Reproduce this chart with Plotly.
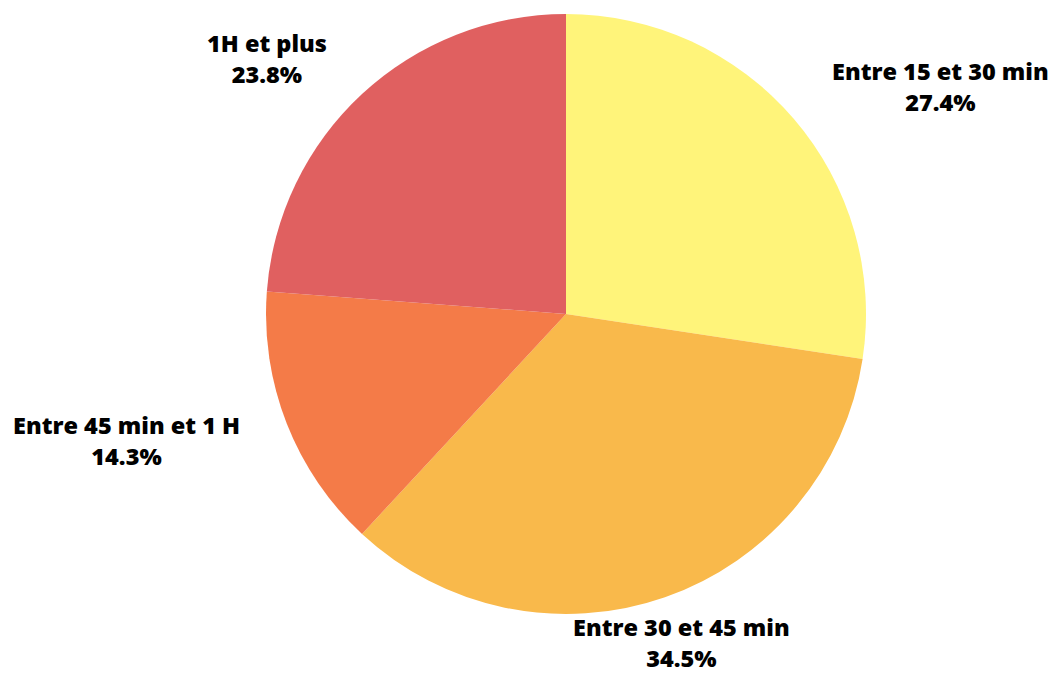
import plotly.graph_objects as go

# Temps de trajet : répartition des réponses
categories = ["Entre 15 et 30 min", "Entre 30 et 45 min", "Entre 45 min et 1 H", "1H et plus"]
shares = [27.4, 34.5, 14.3, 23.8]
colors = ["#FFF47A", "#F9B94B", "#F47B48", "#E06060"]

W, H = 1052, 673
cx, cy, r = 566, 314, 300

fig = go.Figure(go.Pie(
    labels=categories,
    values=shares,
    sort=False,
    direction="clockwise",
    rotation=0,
    marker=dict(colors=colors, line=dict(width=0)),
    textinfo="none",
    hoverinfo="label+percent",
    domain=dict(x=[(cx - r) / W, (cx + r) / W], y=[1 - (cy + r) / H, 1 - (cy - r) / H]),
    showlegend=False,
))

# Label placement (pixel centres of each text block)
label_pos = [(940, 87), (681, 642), (126, 440), (267, 58)]
for name, val, (px, py) in zip(categories, shares, label_pos):
    fig.add_annotation(
        x=px / W, y=1 - py / H, xref="paper", yref="paper",
        text=f"{name}<br>{val:.1f}%",
        showarrow=False, xanchor="center", yanchor="middle", align="center",
        borderpad=0,
        font=dict(family="Open Sans", size=23.5, color="#000000", weight=800),
    )

fig.update_layout(
    width=W, height=H,
    margin=dict(l=0, r=0, t=0, b=0),
    paper_bgcolor="white", plot_bgcolor="white",
)

fig.write_html("out.html")
